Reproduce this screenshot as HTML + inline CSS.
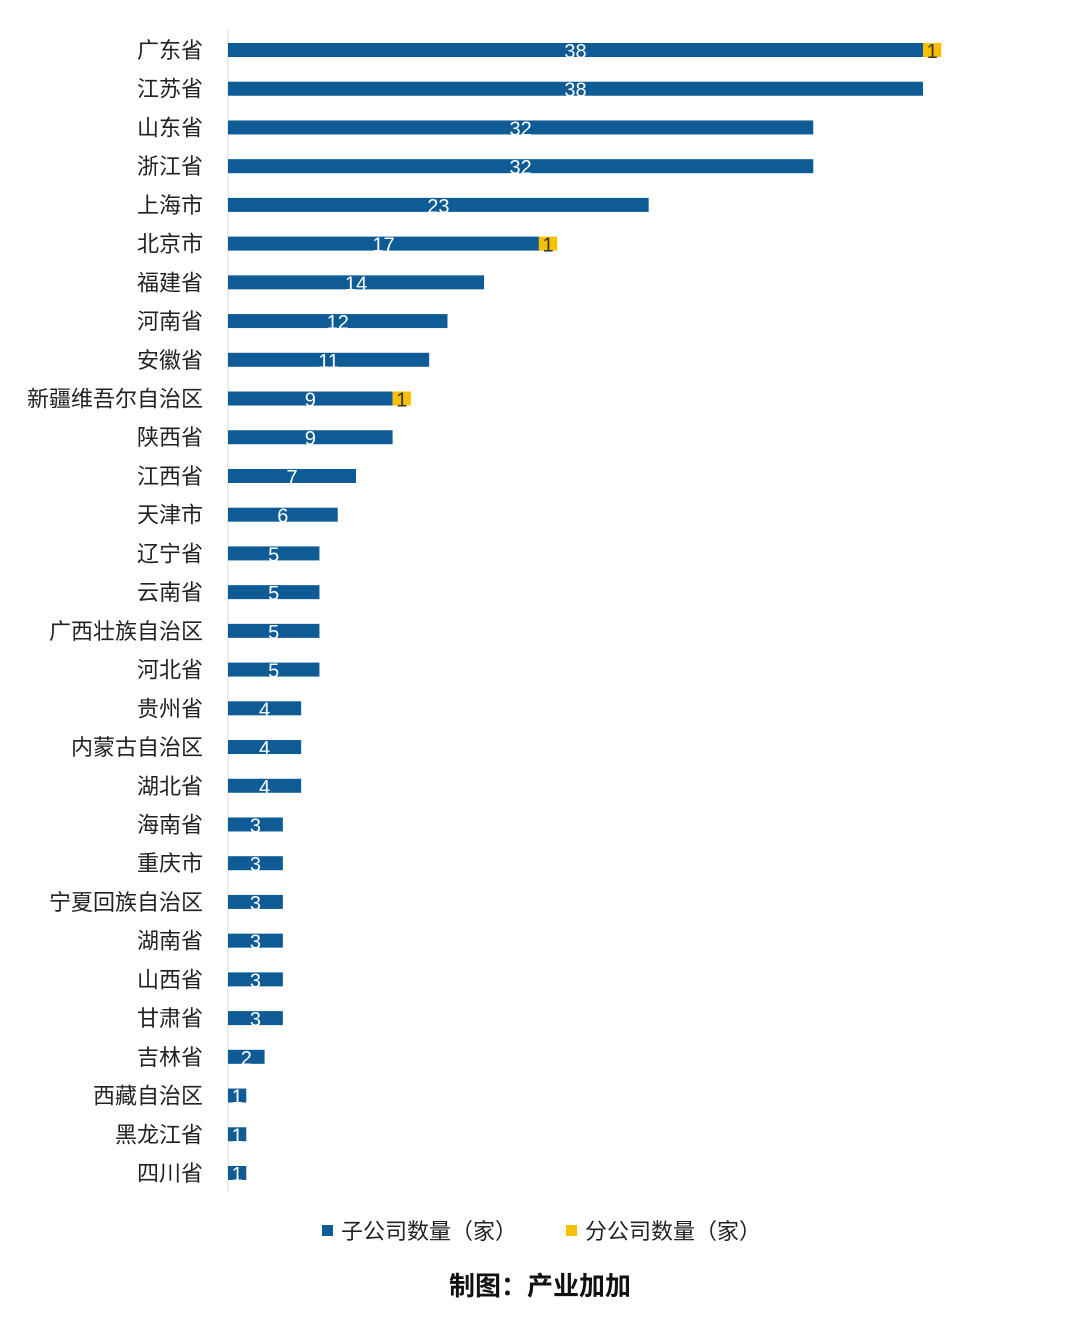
<!DOCTYPE html>
<html><head><meta charset="utf-8">
<style>
html,body{margin:0;padding:0;background:#fff;}
body{width:1080px;height:1318px;overflow:hidden;font-family:"Liberation Sans","Noto Sans CJK SC",sans-serif;}
svg text{font-family:"Liberation Sans","Noto Sans CJK SC",sans-serif;}
</style></head>
<body>
<svg id="chart" width="1080" height="1318" xmlns="http://www.w3.org/2000/svg"></svg>
<script>
const categories=["广东省","江苏省","山东省","浙江省","上海市","北京市","福建省","河南省","安徽省","新疆维吾尔自治区","陕西省","江西省","天津市","辽宁省","云南省","广西壮族自治区","河北省","贵州省","内蒙古自治区","湖北省","海南省","重庆市","宁夏回族自治区","湖南省","山西省","甘肃省","吉林省","西藏自治区","黑龙江省","四川省"];
const subValues=[38,38,32,32,23,17,14,12,11,9,9,7,6,5,5,5,5,4,4,4,3,3,3,3,3,3,2,1,1,1];
const branchValues=[1,0,0,0,0,1,0,0,0,1,0,0,0,0,0,0,0,0,0,0,0,0,0,0,0,0,0,0,0,0];
const NS="http://www.w3.org/2000/svg";
const svg=document.getElementById('chart');
const x0=228, unit=(923-228)/38;
const xScale=v=>x0+v*unit;
const yScale=i=>50+i*((1173-50)/29);
function mk(t,a){const e=document.createElementNS(NS,t);for(const k in a)e.setAttribute(k,a[k]);svg.appendChild(e);return e;}
const ax=mk('line',{x1:x0,y1:30,x2:x0,y2:1192,stroke:'#d9d9d9','stroke-width':1});


categories.forEach((c,i)=>{
  const y=yScale(i);
  const lab=mk('text',{x:203,y:y+8,'text-anchor':'end','font-size':22,fill:'#222'});
  lab.textContent=c;
  
  
  const v=subValues[i];
  const b=mk('rect',{x:xScale(0),y:y-7,width:xScale(v)-xScale(0),height:14,fill:'#0e5b95'});
  
  
  const t=mk('text',{x:(xScale(0)+xScale(v))/2,y:y+8,'text-anchor':'middle','font-size':20,fill:'#fff'});
  t.textContent=v;
  
  
  const bv=branchValues[i];
  if(bv>0){
    const b2=mk('rect',{x:xScale(v),y:y-7,width:xScale(v+bv)-xScale(v),height:14,fill:'#f6c000'});
    
    
    const t2=mk('text',{x:(xScale(v)+xScale(v+bv))/2,y:y+8,'text-anchor':'middle','font-size':20,fill:'#333'});
    t2.textContent=bv;
    
    
  }
});
const l1=mk('rect',{x:322,y:1225,width:11,height:11,fill:'#0e5b95'});


const lt1=mk('text',{x:341,y:1239,'font-size':22,fill:'#222'});
lt1.textContent='子公司数量（家）';


const l2=mk('rect',{x:566,y:1225,width:11,height:11,fill:'#f6c000'});


const lt2=mk('text',{x:585,y:1239,'font-size':22,fill:'#222'});
lt2.textContent='分公司数量（家）';


const ttl=mk('text',{x:540,y:1295,'text-anchor':'middle','font-size':26,'font-weight':'bold',fill:'#111'});
ttl.textContent='制图：产业加加';


</script>
</body></html>
